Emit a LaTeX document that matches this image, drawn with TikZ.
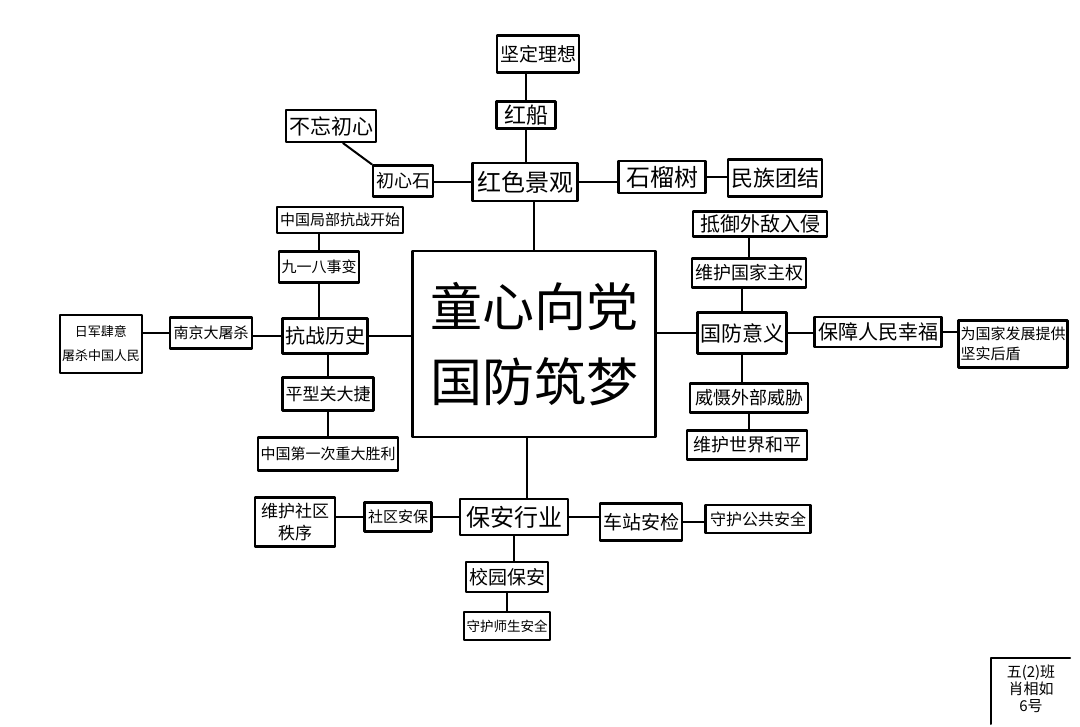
\documentclass[tikz,border=0pt]{standalone}
\usepackage{fontspec}
\setmainfont{Noto Sans CJK SC}
\begin{document}
\begin{tikzpicture}[x=1pt, y=-1pt, line join=round, line cap=round,
	box/.style={draw, line width=2.2pt, inner sep=1pt},
	link/.style={line width=2pt},
	fs/.style={font=\fontsize{#1}{#1}\selectfont}]
				%	\draw[color=gray!50,dashed] (0,0) grid[step=50] (1080,727);
				\fill[white] (0,0) rectangle (1080,727);
				\useasboundingbox (0,0) rectangle (1080,727);
				% centre
				\node[box, minimum width=243, minimum height=186, font=\fontsize{52}{75}\selectfont, align=center] (center) at (534,344) {童心向党\\国防筑梦};
				% top
				\node[box, fs=24, minimum width=105, minimum height=38] (hsjg) at (525,182) {红色景观};
				\node[box, fs=22, minimum width=59, minimum height=27] (hc) at (526,115) {红船};
				\node[box, fs=19, minimum width=82, minimum height=37] (jdlx) at (538,54) {坚定理想};
				\node[box, fs=18, minimum width=60, minimum height=31] (cxs) at (403,181) {初心石};
				\node[box, fs=21, minimum width=90, minimum height=32] (bwcx) at (331,126) {不忘初心};
				\node[box, fs=24, minimum width=87, minimum height=32] (sls) at (662,177) {石榴树};
				\node[box, fs=22, minimum width=94, minimum height=37] (mztj) at (775,178) {民族团结};
				% left
				\node[box, fs=15, minimum width=126, minimum height=26] (kszk) at (340,220) {中国局部抗战开始};
				\node[box, fs=15, minimum width=80, minimum height=31] (jyb) at (319,267) {九一八事变};
				\node[box, fs=20, minimum width=85, minimum height=35] (kzls) at (325,336) {抗战历史};
				\node[box, fs=15, minimum width=82, minimum height=31] (njdts) at (211,333) {南京大屠杀};
				\node[box, font=\fontsize{13}{24}\selectfont, align=center, minimum width=82, minimum height=58] (rjss) at (101,344) {日军肆意\\屠杀中国人民};
				\node[box, fs=17, minimum width=91, minimum height=33] (pxgdj) at (328,394) {平型关大捷};
				\node[box, fs=15, minimum width=140, minimum height=33] (zgdyc) at (328,454) {中国第一次重大胜利};
				% right
				\node[box, fs=20, minimum width=134, minimum height=25] (dywd) at (760,224) {抵御外敌入侵};
				\node[box, fs=18, minimum width=114, minimum height=29] (whgj) at (749,273) {维护国家主权};
				\node[box, fs=21, minimum width=89, minimum height=41] (gfyy) at (742,333) {国防意义};
				\node[box, fs=20, minimum width=127, minimum height=30] (bzrm) at (878,332) {保障人民幸福};
				\node[box, font=\fontsize{15}{20}\selectfont, align=left, minimum width=109, minimum height=47] (wgjfz) at (1013,344) {为国家发展提供\\坚实后盾};
				\node[box, fs=18, minimum width=118, minimum height=29] (wsww) at (749,398) {威慑外部威胁};
				\node[box, fs=18, minimum width=120, minimum height=29] (whsj) at (747,445) {维护世界和平};
				% bottom
				\node[box, fs=24, minimum width=108, minimum height=36] (baxy) at (514,517) {保安行业};
				\node[box, fs=15, minimum width=67, minimum height=29] (sqab) at (398,517) {社区安保};
				\node[box, font=\fontsize{17}{22}\selectfont, align=center, minimum width=80, minimum height=49] (whsq) at (295,522) {维护社区\\秩序};
				\node[box, fs=19, minimum width=82, minimum height=37] (czaj) at (641,522) {车站安检};
				\node[box, fs=16, minimum width=105, minimum height=28] (whgg) at (758,519) {守护公共安全};
				\node[box, fs=19, minimum width=82, minimum height=30] (xyba) at (507,577) {校园保安};
				\node[box, fs=13.5, minimum width=86, minimum height=28] (whss) at (507,626) {守护师生安全};
				% links
				\draw[link] (hc.north) -- (hc.north |- jdlx.south);
				\draw[link] (hc.south) -- (hc.south |- hsjg.north);
				\draw[link] (hsjg.west) -- (hsjg.west -| cxs.east);
				\draw[link] ([xshift=12pt]bwcx.south) -- (cxs.north west);
				\draw[link] (hsjg.east) -- (hsjg.east -| sls.west);
				\draw[link] (sls.east) -- (sls.east -| mztj.west);
				\draw[link] (hsjg.south -| center.north) -- (center.north);
				\draw[link] (jyb.north) -- (jyb.north |- kszk.south);
				\draw[link] (jyb.south) -- (jyb.south |- kzls.north);
				\draw[link] (pxgdj.north) -- (pxgdj.north |- kzls.south);
				\draw[link] (pxgdj.south) -- (pxgdj.south |- zgdyc.north);
				\draw[link] (kzls.west) -- (kzls.west -| njdts.east);
				\draw[link] (njdts.west) -- (njdts.west -| rjss.east);
				\draw[link] (kzls.east) -- (kzls.east -| center.west);
				\draw[link] (whgj.north) -- (whgj.north |- dywd.south);
				\draw[link] (gfyy.north) -- (gfyy.north |- whgj.south);
				\draw[link] (gfyy.south) -- (gfyy.south |- wsww.north);
				\draw[link] (wsww.south) -- (wsww.south |- whsj.north);
				\draw[link] (gfyy.east) -- (gfyy.east -| bzrm.west);
				\draw[link] (bzrm.east) -- (bzrm.east -| wgjfz.west);
				\draw[link] (gfyy.west) -- (gfyy.west -| center.east);
				\draw[link] ([xshift=-7pt]center.south) -- ([xshift=-7pt]center.south |- baxy.north);
				\draw[link] (baxy.west) -- (baxy.west -| sqab.east);
				\draw[link] (sqab.west) -- (sqab.west -| whsq.east);
				\draw[link] (baxy.east) -- (baxy.east -| czaj.west);
				\draw[link] (czaj.east) -- (czaj.east -| whgg.west);
				\draw[link] (baxy.south) -- (baxy.south |- xyba.north);
				\draw[link] (xyba.south) -- (xyba.south |- whss.north);
				% name
				\coordinate (sigA) at (991,724);
				\coordinate (sigB) at (991,658);
				\coordinate (sigC) at (1070,658);
				\draw[link] (sigA) -- (sigB) -- (sigC);
				\node[font=\fontsize{15}{17}\selectfont, align=center] (sig) at (1031,689) {五(2)班\\肖相如\\6号};
	\end{tikzpicture}
\end{document}
